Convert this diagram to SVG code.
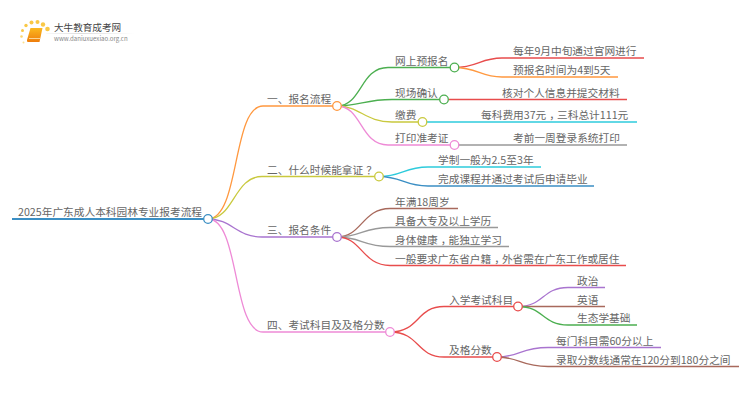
<svg xmlns="http://www.w3.org/2000/svg" width="750" height="410" viewBox="0 0 750 410">
<style>
text{font-family:"Noto Sans CJK SC","Liberation Sans",sans-serif;font-size:10.7px;fill:#666}
.c{fill:none;stroke-width:1.3}
circle{fill:#fff;stroke-width:1.3}
.d{stroke:none;fill:#f9c846}
</style>
<defs><linearGradient id="g" x1="0" x2="1" y1="0" y2="0"><stop offset="0" stop-color="#ddd" stop-opacity=".2"/><stop offset=".4" stop-color="#ddd"/><stop offset="1" stop-color="#ddd" stop-opacity="0"/></linearGradient>
<linearGradient id="b" x1="0" x2="0" y1="0" y2="1"><stop offset="0" stop-color="#fbb91f"/><stop offset="1" stop-color="#ee7d0c"/></linearGradient></defs>
<rect width="750" height="410" fill="#fff"/>
<g id="logo">
<circle class="d" cx="23.500" cy="42.500" r="1" style="fill:#fbe08f"/><circle class="d" cx="21.500" cy="36.500" r="1.300" style="fill:#fbd66e"/><circle class="d" cx="22.500" cy="30.500" r="1.500"/><circle class="d" cx="26" cy="25.500" r="1.700"/><circle class="d" cx="31.500" cy="22.500" r="2"/><circle class="d" cx="37.500" cy="22" r="2"/><circle class="d" cx="43" cy="24.500" r="2.200"/><circle class="d" cx="47.500" cy="29" r="2.300"/>
<path d="M30.500,28H42.500L39.500,42H28Q26.500,42 27,40Z" fill="url(#b)"/>
<path d="M29,38.500H40" stroke="#fde9b8" stroke-width=".8" fill="none"/>
<rect x="46" y="33" width="88" height="1" fill="url(#g)"/>
<text x="54" y="30.500" style="font-size:9.600px;fill:#444">大牛教育成考网</text>
<text x="54" y="41" style="font-size:6.100px;fill:#888">www.daniuxuexiao.org.cn</text>
</g>
<g id="connectors">
<path class="c" stroke="#3b8fc4" d="M12,219H208" style="stroke-width:1.800"/>
<path class="c" stroke="#ff983f" d="M208,219C240,219 232,106 263,106H337"/>
<path class="c" stroke="#c9c93e" d="M208,219C234,219 234,176.500 262,176.500H379"/>
<path class="c" stroke="#a974cf" d="M208,219C232,219 236,237 262,237H337"/>
<path class="c" stroke="#ee8ad6" d="M208,219C240,219 232,332 263,332H390"/>
<path class="c" stroke="#4caf50" d="M337,106C362,106 360,67.500 388,67.500H454"/>
<path class="c" stroke="#4caf50" d="M337,106C360,106 365,99.500 392,99.500H444"/>
<path class="c" stroke="#c9c93e" d="M337,106C360,106 365,122 392,122H422"/>
<path class="c" stroke="#ee8ad6" d="M337,106C362,106 360,145 388,145H454"/>
<path class="c" stroke="#e84c4c" d="M454,67.500C478,67.500 480,58 502,58H644"/>
<path class="c" stroke="#ff983f" d="M454,67.500C478,67.500 480,77 502,77H618"/>
<path class="c" stroke="#e84c4c" d="M444,99.500H627"/>
<path class="c" stroke="#2ecbdc" d="M422,122H637"/>
<path class="c" stroke="#999" d="M454,145H627"/>
<path class="c" stroke="#2ecbdc" d="M379,176.500C402,176.500 404,167 428,167H541"/>
<path class="c" stroke="#3b8fc4" d="M379,176.500C402,176.500 404,186 428,186H594"/>
<path class="c" stroke="#a8695c" d="M337,237C362,237 362,208.500 390,208.500H458"/>
<path class="c" stroke="#999" d="M337,237C362,237 362,227.500 390,227.500H498"/>
<path class="c" stroke="#999" d="M337,237C362,237 362,246.500 390,246.500H509"/>
<path class="c" stroke="#e84c4c" d="M337,237C362,237 362,265.500 390,265.500H626"/>
<path class="c" stroke="#e84c4c" d="M390,332C420,332 416,306.500 444,306.500H518"/>
<path class="c" stroke="#e84c4c" d="M390,332C420,332 416,357 444,357H497"/>
<path class="c" stroke="#a974cf" d="M518,306.500C544,306.500 542,287.500 568,287.500H605"/>
<path class="c" stroke="#a8695c" d="M518,306.500H605"/>
<path class="c" stroke="#4caf50" d="M518,306.500C544,306.500 542,325 568,325H637"/>
<path class="c" stroke="#a974cf" d="M497,357C520,357 520,347.500 548,347.500H661"/>
<path class="c" stroke="#a8695c" d="M497,357C520,357 520,366.500 548,366.500H739"/>
</g>
<g id="root"><circle cx="208" cy="219" r="4.300" stroke="#3b8fc4"/><text x="18" y="216">2025年广东成人本科园林专业报考流程</text></g>
<g id="n1"><circle cx="337" cy="106" r="4.300" stroke="#ff983f"/><text x="267" y="103">一、报名流程</text></g>
<g id="n2"><circle cx="379" cy="176.500" r="4.300" stroke="#c9c93e"/><text x="267" y="174">二、什么时候能拿证<tspan dx="3">？</tspan></text></g>
<g id="n3"><circle cx="337" cy="237" r="4.300" stroke="#a974cf"/><text x="267" y="234">三、报名条件</text></g>
<g id="n4"><circle cx="390" cy="332" r="4.300" stroke="#ee8ad6"/><text x="267" y="329">四、考试科目及及格分数</text></g>
<g id="n11"><circle cx="454.500" cy="67.500" r="4.300" stroke="#4caf50"/><text x="395" y="65">网上预报名</text></g>
<g id="n12"><circle cx="444" cy="99.500" r="4.300" stroke="#4caf50"/><text x="395" y="97">现场确认</text></g>
<g id="n13"><circle cx="422.500" cy="122" r="4.300" stroke="#c9c93e"/><text x="395" y="119">缴费</text></g>
<g id="n14"><circle cx="454.500" cy="145" r="4.300" stroke="#ee8ad6"/><text x="395" y="142">打印准考证</text></g>
<g id="n111"><text x="513" y="55">每年9月中旬通过官网进行</text></g>
<g id="n112"><text x="513" y="74">预报名时间为4到5天</text></g>
<g id="n121"><text x="502" y="96.500">核对个人信息并提交材料</text></g>
<g id="n131"><text x="481" y="119">每科费用37元<tspan dx="3">，</tspan><tspan dx="-3">三科总计111元</tspan></text></g>
<g id="n141"><text x="513" y="141.500">考前一周登录系统打印</text></g>
<g id="n21"><text x="438" y="164">学制一般为2.5至3年</text></g>
<g id="n22"><text x="438" y="183">完成课程并通过考试后申请毕业</text></g>
<g id="n31"><text x="395" y="205.500">年满18周岁</text></g>
<g id="n32"><text x="395" y="224.500">具备大专及以上学历</text></g>
<g id="n33"><text x="395" y="243.500">身体健康<tspan dx="3">，</tspan><tspan dx="-3">能独立学习</tspan></text></g>
<g id="n34"><text x="395" y="262.500">一般要求广东省户籍<tspan dx="3">，</tspan><tspan dx="-3">外省需在广东工作或居住</tspan></text></g>
<g id="n41"><circle cx="518" cy="306.500" r="4.300" stroke="#e84c4c"/><text x="449" y="303.500">入学考试科目</text></g>
<g id="n42"><circle cx="497" cy="357" r="4.300" stroke="#e84c4c"/><text x="449" y="354">及格分数</text></g>
<g id="n411"><text x="577" y="284.500">政治</text></g>
<g id="n412"><text x="577" y="303.500">英语</text></g>
<g id="n413"><text x="577" y="322">生态学基础</text></g>
<g id="n421"><text x="556" y="344.500">每门科目需60分以上</text></g>
<g id="n422"><text x="556" y="363.500">录取分数线通常在120分到180分之间</text></g>
</svg>
